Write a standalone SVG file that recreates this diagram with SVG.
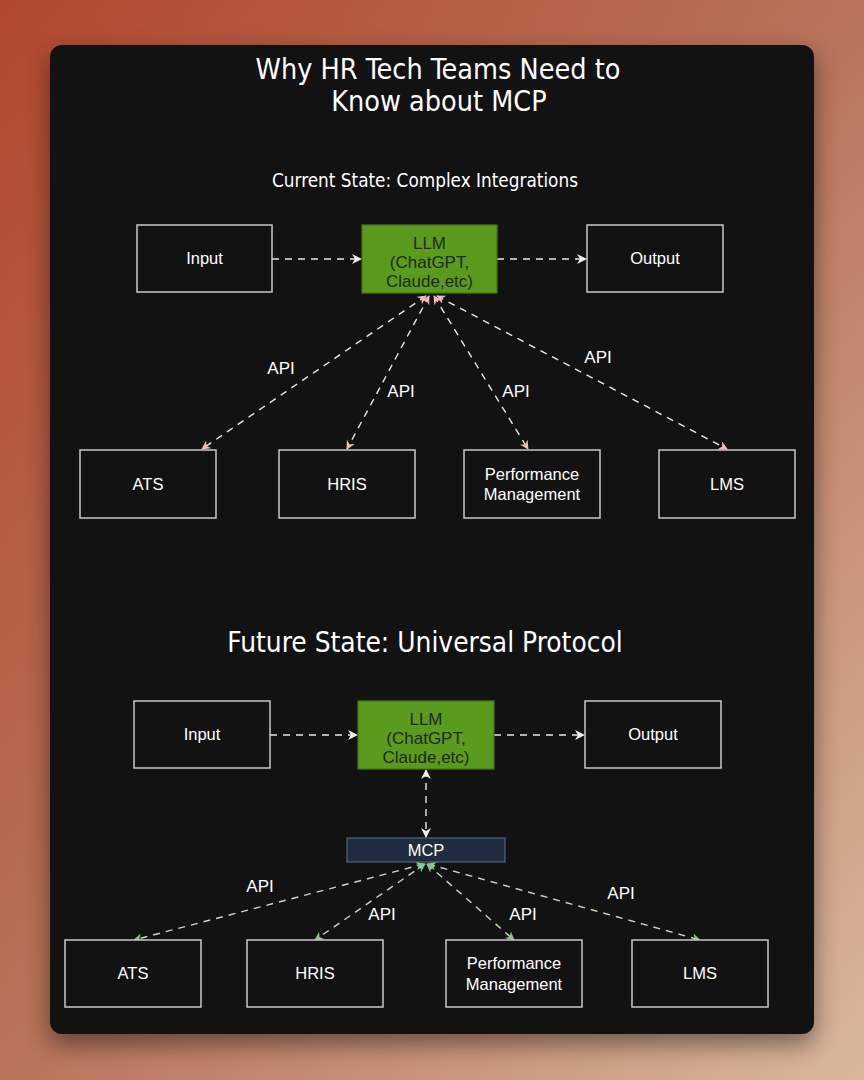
<svg xmlns="http://www.w3.org/2000/svg" width="864" height="1080" viewBox="0 0 864 1080">
<defs>
<linearGradient id="bg" x1="0" y1="0" x2="1" y2="1">
<stop offset="0" stop-color="#b2482f"/>
<stop offset="0.5" stop-color="#b8735a"/>
<stop offset="1" stop-color="#d9b79c"/>
</linearGradient>
<filter id="sh" x="-10%" y="-10%" width="120%" height="120%">
<feGaussianBlur stdDeviation="12"/>
</filter>
<marker id="pk" viewBox="0 0 10 10" refX="9" refY="5" markerWidth="9" markerHeight="9" orient="auto-start-reverse" markerUnits="userSpaceOnUse">
<path d="M0,0 L10,5 L0,10 L3,5 Z" fill="#f5b8b8"/>
</marker>
<marker id="gr" viewBox="0 0 10 10" refX="9" refY="5" markerWidth="9" markerHeight="9" orient="auto-start-reverse" markerUnits="userSpaceOnUse">
<path d="M0,0 L10,5 L0,10 L3,5 Z" fill="#8cc48a"/>
</marker>
<marker id="wh" viewBox="0 0 10 10" refX="9" refY="5" markerWidth="10" markerHeight="10" orient="auto-start-reverse" markerUnits="userSpaceOnUse">
<path d="M0,0 L10,5 L0,10 L3,5 Z" fill="#f0f0f0"/>
</marker>
</defs>
<style>
.box{fill:#121212;stroke:#c8c8c8;stroke-width:1.5}
.llm{fill:#5a9a1c;stroke:#3f7a12;stroke-width:1.2}
.mcp{fill:#1f2b3e;stroke:#5d7292;stroke-width:1}
.t{font-family:"Liberation Sans",Arial,sans-serif;font-size:16.5px;fill:#ffffff;text-anchor:middle}
.tl{font-family:"Liberation Sans",Arial,sans-serif;font-size:17px;fill:#1a2a0a;text-anchor:middle}
.h{font-family:"DejaVu Sans Condensed","Liberation Sans Narrow",sans-serif;fill:#ffffff;text-anchor:middle}
.c{fill:none;stroke:#e8e8e8;stroke-width:1.4;stroke-dasharray:7,6}
.cg{fill:none;stroke:#c8d8c0;stroke-width:1.4;stroke-dasharray:7,6}
.lab{font-family:"Liberation Sans",Arial,sans-serif;font-size:17px;fill:#ffffff;text-anchor:middle}
</style>
<rect x="0" y="0" width="864" height="1080" fill="url(#bg)"/>
<rect x="50" y="55" width="764" height="989" rx="12" fill="#000" opacity="0.45" filter="url(#sh)"/>
<rect x="50" y="45" width="764" height="989" rx="12" fill="#121212"/>

<g id="titles">
<text class="h" x="438" y="79" font-size="28.5">Why HR Tech Teams Need to</text>
<text class="h" x="439" y="111" font-size="28.5">Know about MCP</text>
<text class="h" x="425" y="187" font-size="18.8">Current State: Complex Integrations</text>
<text class="h" x="425" y="652" font-size="27.8">Future State: Universal Protocol</text>
</g>

<g id="connectors">
<line class="c" x1="272" y1="259" x2="361" y2="259" marker-end="url(#wh)"/>
<line class="c" x1="497" y1="259" x2="586" y2="259" marker-end="url(#wh)"/>
<line class="c" x1="426" y1="296" x2="202" y2="449" marker-start="url(#pk)" marker-end="url(#pk)"/>
<line class="c" x1="429" y1="296" x2="347" y2="449" marker-start="url(#pk)" marker-end="url(#pk)"/>
<line class="c" x1="434" y1="296" x2="528" y2="449" marker-start="url(#pk)" marker-end="url(#pk)"/>
<line class="c" x1="437" y1="296" x2="727" y2="449" marker-start="url(#pk)" marker-end="url(#pk)"/>
<text class="lab" x="281" y="374">API</text>
<text class="lab" x="401" y="397">API</text>
<text class="lab" x="516" y="397">API</text>
<text class="lab" x="598" y="363">API</text>

<line class="c" x1="270" y1="735" x2="357" y2="735" marker-end="url(#wh)"/>
<line class="c" x1="494" y1="735" x2="584" y2="735" marker-end="url(#wh)"/>
<line class="c" x1="426" y1="770" x2="426" y2="837" marker-start="url(#wh)" marker-end="url(#wh)"/>
<line class="cg" x1="424" y1="864" x2="134" y2="940" marker-start="url(#gr)" marker-end="url(#gr)"/>
<line class="cg" x1="425" y1="864" x2="315" y2="940" marker-start="url(#gr)" marker-end="url(#gr)"/>
<line class="cg" x1="427" y1="864" x2="514" y2="940" marker-start="url(#gr)" marker-end="url(#gr)"/>
<line class="cg" x1="428" y1="864" x2="700" y2="940" marker-start="url(#gr)" marker-end="url(#gr)"/>
<text class="lab" x="260" y="892">API</text>
<text class="lab" x="382" y="920">API</text>
<text class="lab" x="523" y="920">API</text>
<text class="lab" x="621" y="899">API</text>
</g>

<g id="input1"><rect class="box" x="137" y="225" width="135" height="67"/><text class="t" x="204.5" y="264">Input</text></g>
<g id="llm1"><rect class="llm" x="362" y="225" width="135" height="68"/><text class="tl" x="429.5" y="249">LLM</text><text class="tl" x="429.5" y="268">(ChatGPT,</text><text class="tl" x="429.5" y="287">Claude,etc)</text></g>
<g id="output1"><rect class="box" x="587" y="225" width="136" height="67"/><text class="t" x="655" y="264">Output</text></g>
<g id="ats1"><rect class="box" x="80" y="450" width="136" height="68"/><text class="t" x="148" y="490">ATS</text></g>
<g id="hris1"><rect class="box" x="279" y="450" width="136" height="68"/><text class="t" x="347" y="490">HRIS</text></g>
<g id="pm1"><rect class="box" x="464" y="450" width="136" height="68"/><text class="t" x="532" y="480">Performance</text><text class="t" x="532" y="500">Management</text></g>
<g id="lms1"><rect class="box" x="659" y="450" width="136" height="68"/><text class="t" x="727" y="490">LMS</text></g>

<g id="input2"><rect class="box" x="134" y="701" width="136" height="67"/><text class="t" x="202" y="740">Input</text></g>
<g id="llm2"><rect class="llm" x="358" y="701" width="136" height="68"/><text class="tl" x="426" y="725">LLM</text><text class="tl" x="426" y="744">(ChatGPT,</text><text class="tl" x="426" y="763">Claude,etc)</text></g>
<g id="output2"><rect class="box" x="585" y="701" width="136" height="67"/><text class="t" x="653" y="740">Output</text></g>
<g id="mcp"><rect class="mcp" x="347" y="838" width="158" height="24"/><text class="t" x="426" y="856">MCP</text></g>
<g id="ats2"><rect class="box" x="65" y="940" width="136" height="67"/><text class="t" x="133" y="979">ATS</text></g>
<g id="hris2"><rect class="box" x="247" y="940" width="136" height="67"/><text class="t" x="315" y="979">HRIS</text></g>
<g id="pm2"><rect class="box" x="446" y="940" width="136" height="67"/><text class="t" x="514" y="969">Performance</text><text class="t" x="514" y="990">Management</text></g>
<g id="lms2"><rect class="box" x="632" y="940" width="136" height="67"/><text class="t" x="700" y="979">LMS</text></g>
</svg>
